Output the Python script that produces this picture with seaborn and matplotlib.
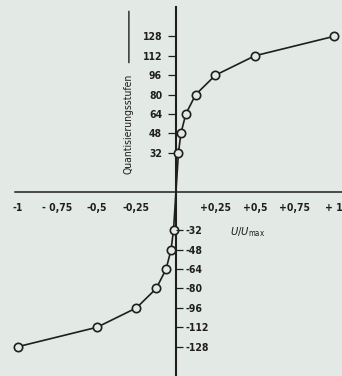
import matplotlib
matplotlib.use("Agg")
import matplotlib.pyplot as plt
import seaborn as sns
import pandas as pd

# Companding characteristic: normalised input voltage vs. quantisation level
u_pos = [1/64, 1/32, 1/16, 1/8, 1/4, 1/2, 1]
levels_pos = [32, 48, 64, 80, 96, 112, 128]
u_neg = [-v for v in u_pos]
levels_neg = [-v for v in levels_pos]

x_ticks = [-1, -0.75, -0.5, -0.25, 0.25, 0.5, 0.75, 1]
x_ticklabels = ["-1", "- 0,75", "-0,5", "-0,25", "+0,25", "+0,5", "+0,75", "+ 1"]
y_ticks_pos = [32, 48, 64, 80, 96, 112, 128]
y_ticks_neg = [-32, -48, -64, -80, -96, -112, -128]

BG = "#e3e9e5"
INK = "#1e1e1e"

sns.set_theme(style="white")
plt.rcParams["font.family"] = ["DejaVu Sans"]
plt.rcParams["font.stretch"] = "condensed"
plt.rcParams["font.size"] = 7.5

curve = pd.DataFrame({
    "u": u_neg[::-1] + [0.0] + u_pos,
    "q": levels_neg[::-1] + [0.0] + levels_pos,
})
points = pd.DataFrame({"u": u_neg + u_pos, "q": levels_neg + levels_pos})

fig = plt.figure(figsize=(3.42, 3.76), dpi=100, facecolor=BG)
ax = fig.add_axes([0, 0, 1, 1], facecolor=BG)

sns.lineplot(data=curve, x="u", y="q", ax=ax, color=INK, lw=1.2, sort=True, zorder=3)
sns.scatterplot(data=points, x="u", y="q", ax=ax, s=36, facecolor=BG,
                edgecolor=INK, linewidth=1.2, zorder=4)

ax.set_xlim(-1.114, 1.051)
ax.set_ylim(-152.2, 158.0)

# axes crossing at the origin
for side in ("top", "right"):
    ax.spines[side].set_visible(False)
ax.spines["left"].set_position(("data", 0))
ax.spines["bottom"].set_position(("data", 0))
ax.spines["left"].set_bounds(-152, 152)
ax.spines["bottom"].set_bounds(-1.02, 1.06)
ax.spines["left"].set_linewidth(1.5)
ax.spines["bottom"].set_linewidth(1.1)
ax.spines["left"].set_color(INK)
ax.spines["bottom"].set_color(INK)

ax.set_xticks(x_ticks)
ax.set_xticklabels(x_ticklabels, fontweight="semibold")
ax.tick_params(axis="x", direction="out", length=3, width=0.8, pad=5,
               colors=INK, labelsize=7.5)

ax.set_yticks(y_ticks_pos)
ax.set_yticklabels([str(v) for v in y_ticks_pos], fontweight="semibold")
ax.tick_params(axis="y", direction="out", length=6, width=0.9, pad=4,
               colors=INK, labelsize=7.5)

# negative levels: ticks and labels to the right of the vertical axis
ax2 = ax.twinx()
ax2.set_ylim(ax.get_ylim())
for side in ("top", "bottom", "left"):
    ax2.spines[side].set_visible(False)
ax2.spines["right"].set_position(("data", 0))
ax2.spines["right"].set_visible(False)
ax2.set_yticks(y_ticks_neg)
ax2.set_yticklabels([str(v) for v in y_ticks_neg], fontweight="semibold")
ax2.tick_params(axis="y", direction="out", length=5, width=0.9, pad=2,
                colors=INK, labelsize=7.5)

ax.set_xlabel("")
ax.set_ylabel("Quantisierungsstufen", fontsize=7.5, color=INK)
ax.yaxis.set_label_coords(134 / 342, 1 - 124 / 376)

# vertical stroke above the axis title
ax.annotate("", xy=(-0.298, 151), xytext=(-0.298, 104),
            arrowprops=dict(arrowstyle="-", color=INK, lw=1.0))

# horizontal axis title with arrow
ax.text(0.34, -33.4, r"$U/U_{\rm max}$", fontsize=8, color=INK,
        ha="left", va="center")
ax.annotate("", xy=(1.06, -33.4), xytext=(0.67, -33.4),
            arrowprops=dict(arrowstyle="-|>,head_length=0.8,head_width=0.2",
                            color=INK, lw=1.0))

fig.savefig("out.png", dpi=100, facecolor=BG)
